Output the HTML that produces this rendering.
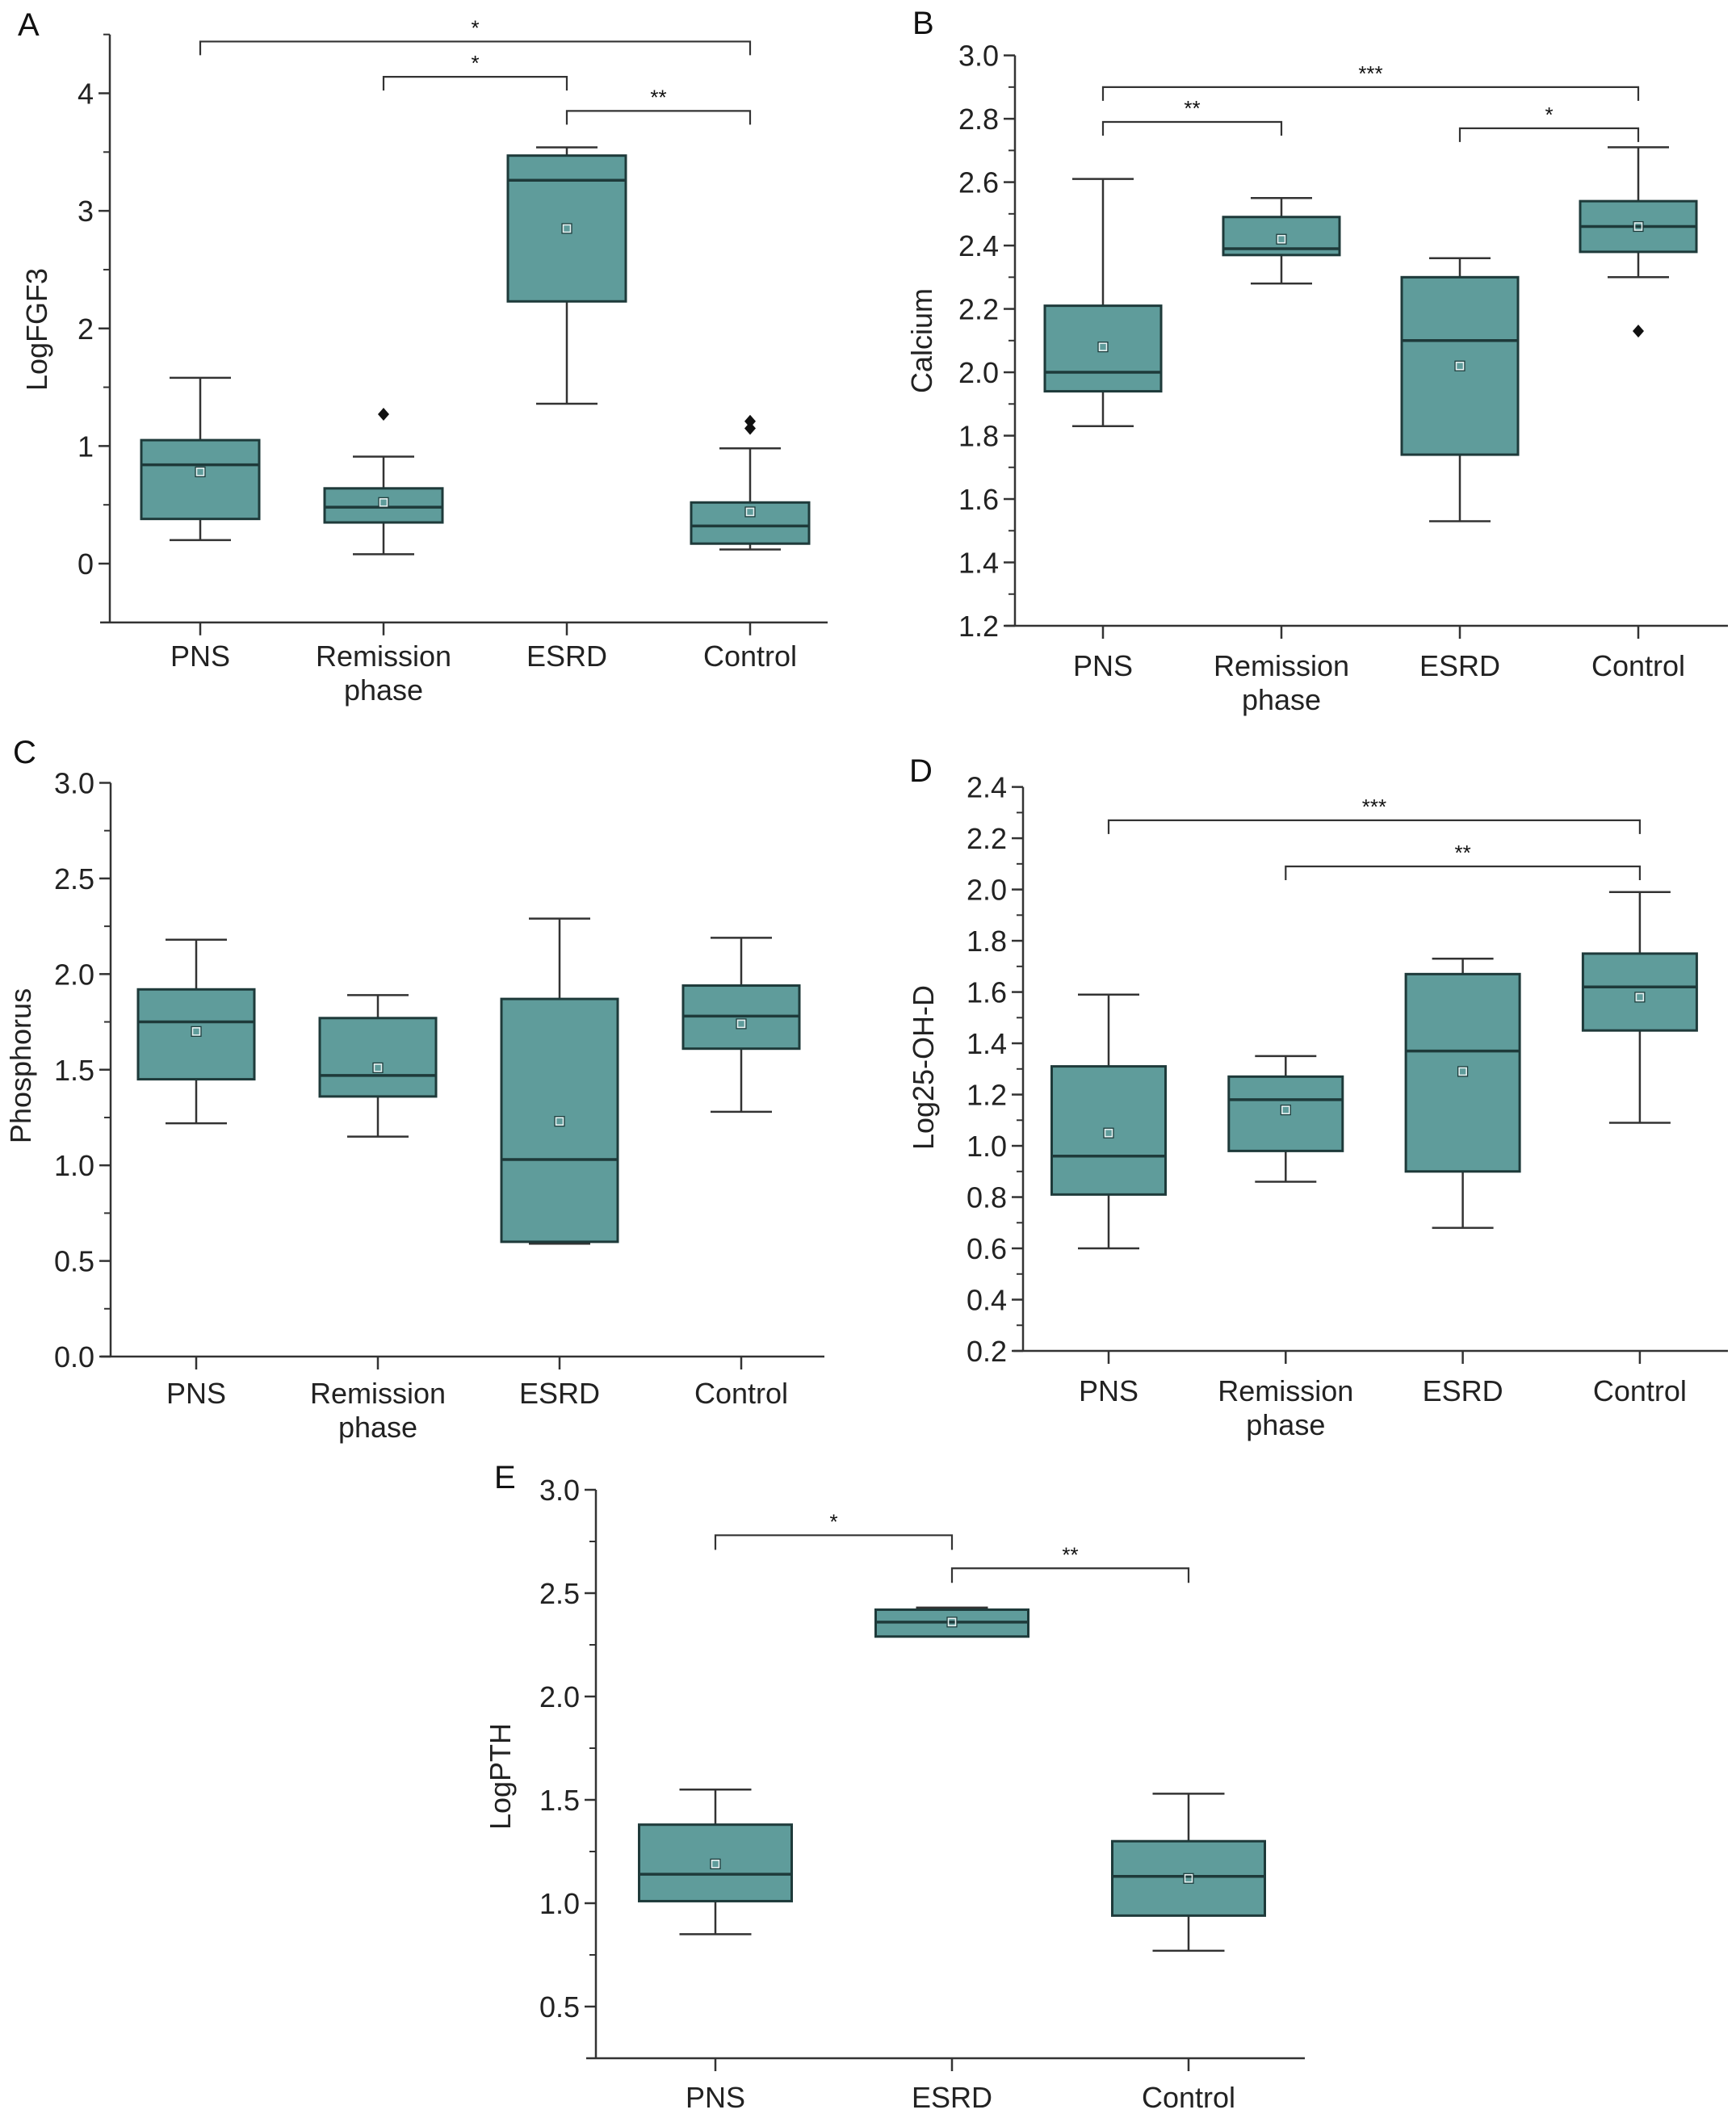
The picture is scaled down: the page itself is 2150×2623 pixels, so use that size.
<!DOCTYPE html>
<html><head><meta charset="utf-8"><style>
html,body{margin:0;padding:0;background:#fff;}
svg{display:block;font-family:"Liberation Sans",Arial,sans-serif;}
</style></head><body>
<svg id="chart" width="2150" height="2623" viewBox="0 0 2150 2623" xmlns="http://www.w3.org/2000/svg"></svg>
<script>
// ---- data ----
const catsA = ["PNS","Remission|phase","ESRD","Control"];
const minA = [0.20,0.08,1.36,0.12];
const q1A = [0.38,0.35,2.23,0.17];
const medA = [0.84,0.48,3.26,0.32];
const q3A = [1.05,0.64,3.47,0.52];
const maxA = [1.58,0.91,3.54,0.98];
const meanA = [0.78,0.52,2.85,0.44];
const outA = [[],[1.27],[],[1.15,1.21]];
const ticksA = [0,1,2,3,4];

const catsB = ["PNS","Remission|phase","ESRD","Control"];
const minB = [1.83,2.28,1.53,2.30];
const q1B = [1.94,2.37,1.74,2.38];
const medB = [2.00,2.39,2.10,2.46];
const q3B = [2.21,2.49,2.30,2.54];
const maxB = [2.61,2.55,2.36,2.71];
const meanB = [2.08,2.42,2.02,2.46];
const outB = [[],[],[],[2.13]];
const ticksB = ["1.2","1.4","1.6","1.8","2.0","2.2","2.4","2.6","2.8","3.0"];

const catsC = ["PNS","Remission|phase","ESRD","Control"];
const minC = [1.22,1.15,0.59,1.28];
const q1C = [1.45,1.36,0.60,1.61];
const medC = [1.75,1.47,1.03,1.78];
const q3C = [1.92,1.77,1.87,1.94];
const maxC = [2.18,1.89,2.29,2.19];
const meanC = [1.70,1.51,1.23,1.74];
const outC = [[],[],[],[]];
const ticksC = ["0.0","0.5","1.0","1.5","2.0","2.5","3.0"];

const catsD = ["PNS","Remission|phase","ESRD","Control"];
const minD = [0.60,0.86,0.68,1.09];
const q1D = [0.81,0.98,0.90,1.45];
const medD = [0.96,1.18,1.37,1.62];
const q3D = [1.31,1.27,1.67,1.75];
const maxD = [1.59,1.35,1.73,1.99];
const meanD = [1.05,1.14,1.29,1.58];
const outD = [[],[],[],[]];
const ticksD = ["0.2","0.4","0.6","0.8","1.0","1.2","1.4","1.6","1.8","2.0","2.2","2.4"];

const catsE = ["PNS","ESRD","Control"];
const minE = [0.85,2.29,0.77];
const q1E = [1.01,2.29,0.94];
const medE = [1.14,2.36,1.13];
const q3E = [1.38,2.42,1.30];
const maxE = [1.55,2.43,1.53];
const meanE = [1.19,2.36,1.12];
const outE = [[],[],[]];
const ticksE = ["0.5","1.0","1.5","2.0","2.5","3.0"];

// significance brackets: [fromIndex, toIndex, label, y-value]
const sigA = [[0,3,"*",4.44],[1,2,"*",4.14],[2,3,"**",3.85]];
const sigB = [[0,3,"***",2.90],[0,1,"**",2.79],[2,3,"*",2.77]];
const sigD = [[0,3,"***",2.27],[1,3,"**",2.09]];
const sigE = [[0,1,"*",2.78],[1,2,"**",2.62]];

// ---- layout ----
const NS="http://www.w3.org/2000/svg";
const svg=document.getElementById('chart');
function mk(tag,attrs,parent){const e=document.createElementNS(NS,tag);for(const k in attrs)e.setAttribute(k,attrs[k]);(parent||svg).appendChild(e);return e;}
const FILL="#5f9c9b", DARK="#1e3a3a", AX="#333";

function panel(p){
  const g=mk('g',{});
  
  
  const y=v=>p.y0+(v-p.v0)*(p.y1-p.y0)/(p.v1-p.v0);
  const xc=i=>p.x0+i*p.dx;
  const ya=mk('line',{x1:p.ax,y1:y(p.vTop),x2:p.ax,y2:y(p.vBot),stroke:AX,'stroke-width':2.5},g);
  
  const xa=mk('line',{x1:p.ax-12,y1:y(p.vBot),x2:p.xr,y2:y(p.vBot),stroke:AX,'stroke-width':2.5},g);
  
  for(let v=p.vBot;v<=p.vTop+1e-9;v+=p.minor){
    mk('line',{x1:p.ax-8,y1:y(v),x2:p.ax,y2:y(v),stroke:AX,'stroke-width':2},g);
  }
  p.ticks.forEach(t=>{
    const v=parseFloat(t);
    mk('line',{x1:p.ax-14,y1:y(v),x2:p.ax,y2:y(v),stroke:AX,'stroke-width':2.5},g);
    const tx=mk('text',{x:p.ax-20,y:y(v)+13,'text-anchor':'end','font-size':36,fill:'#222'},g);
    tx.textContent=t;
    
  });
  const tt=mk('text',{x:p.titleX,y:p.titleY,'text-anchor':'middle','font-size':36,fill:'#222',transform:`rotate(-90 ${p.titleX} ${p.titleY})`},g);
  tt.textContent=p.title;
  
  const lt=mk('text',{x:p.lx,y:p.ly,'font-size':40,fill:'#111'},g);
  lt.textContent=p.letter;
  
  p.cats.forEach((c,i)=>{
    const x=xc(i);
    mk('line',{x1:x,y1:y(p.vBot),x2:x,y2:y(p.vBot)+16,stroke:AX,'stroke-width':2.5},g);
    c.split('|').forEach((line,j)=>{
      const t=mk('text',{x:x,y:p.labY+j*42,'text-anchor':'middle','font-size':36,fill:'#222'},g);
      t.textContent=line;
      
    });
    const bg=mk('g',{},g);
    
    
    const hw=p.bw/2, cw=p.cw/2;
    mk('line',{x1:x,y1:y(p.max[i]),x2:x,y2:y(p.q3[i]),stroke:AX,'stroke-width':2.5},bg);
    mk('line',{x1:x,y1:y(p.q1[i]),x2:x,y2:y(p.min[i]),stroke:AX,'stroke-width':2.5},bg);
    mk('line',{x1:x-cw,y1:y(p.max[i]),x2:x+cw,y2:y(p.max[i]),stroke:AX,'stroke-width':2.5},bg);
    mk('line',{x1:x-cw,y1:y(p.min[i]),x2:x+cw,y2:y(p.min[i]),stroke:AX,'stroke-width':2.5},bg);
    mk('rect',{x:x-hw,y:y(p.q3[i]),width:p.bw,height:Math.max(1,y(p.q1[i])-y(p.q3[i])),fill:FILL,stroke:DARK,'stroke-width':3},bg);
    mk('line',{x1:x-hw,y1:y(p.med[i]),x2:x+hw,y2:y(p.med[i]),stroke:DARK,'stroke-width':3.5},bg);
    mk('rect',{x:x-4.5,y:y(p.mean[i])-4.5,width:9,height:9,fill:'none',stroke:'#e8f2f2','stroke-width':1.6},bg);
    mk('rect',{x:x-6,y:y(p.mean[i])-6,width:12,height:12,fill:'none',stroke:DARK,'stroke-width':1.2},bg);
    p.out[i].forEach(o=>{
      const d=mk('path',{d:`M${x} ${y(o)-8} L${x+7} ${y(o)} L${x} ${y(o)+8} L${x-7} ${y(o)} Z`,fill:'#111'},bg);
      
    });
  });
  (p.sig||[]).forEach(s=>{
    const sg=mk('g',{},g);
    
    
    const a=xc(s[0]),b=xc(s[1]),yy=y(s[3]);
    mk('path',{d:`M${a} ${yy+p.drop} L${a} ${yy} L${b} ${yy} L${b} ${yy+p.drop}`,fill:'none',stroke:AX,'stroke-width':2.2},sg);
    const st=mk('text',{x:(a+b)/2,y:yy-8,'text-anchor':'middle','font-size':26,fill:'#111'},sg);
    st.textContent=s[2];
  });
}

panel({letter:"A",lx:22,ly:44,title:"LogFGF3",titleX:58,titleY:408,
  cats:catsA,min:minA,q1:q1A,med:medA,q3:q3A,max:maxA,mean:meanA,out:outA,sig:sigA,
  ticks:ticksA.map(String),v0:0,v1:4,y0:698,y1:115.5,vTop:4.5,vBot:-0.5,minor:0.5,
  ax:136,xr:1025,x0:248,dx:227,bw:146,cw:76,labY:825,drop:17});
panel({letter:"B",lx:1130,ly:42,title:"Calcium",titleX:1154,titleY:422,
  cats:catsB,min:minB,q1:q1B,med:medB,q3:q3B,max:maxB,mean:meanB,out:outB,sig:sigB,
  ticks:ticksB,v0:1.2,v1:3.0,y0:775,y1:68.6,vTop:3.0,vBot:1.2,minor:0.1,
  ax:1257,xr:2140,x0:1366,dx:221,bw:144,cw:76,labY:837,drop:17});
panel({letter:"C",lx:16,ly:945,title:"Phosphorus",titleX:38,titleY:1320,
  cats:catsC,min:minC,q1:q1C,med:medC,q3:q3C,max:maxC,mean:meanC,out:outC,sig:[],
  ticks:ticksC,v0:0,v1:3,y0:1680,y1:969.5,vTop:3.0,vBot:0,minor:0.25,
  ax:137,xr:1021,x0:243,dx:225,bw:144,cw:76,labY:1738,drop:17});
panel({letter:"D",lx:1126,ly:968,title:"Log25-OH-D",titleX:1156,titleY:1322,
  cats:catsD,min:minD,q1:q1D,med:medD,q3:q3D,max:maxD,mean:meanD,out:outD,sig:sigD,
  ticks:ticksD,v0:0.2,v1:2.4,y0:1673,y1:974.6,vTop:2.4,vBot:0.2,minor:0.1,
  ax:1267,xr:2140,x0:1373,dx:219.3,bw:141,cw:76,labY:1735,drop:17});
panel({letter:"E",lx:612,ly:1843,title:"LogPTH",titleX:632,titleY:2200,
  cats:catsE,min:minE,q1:q1E,med:medE,q3:q3E,max:maxE,mean:meanE,out:outE,sig:sigE,
  ticks:ticksE,v0:0.5,v1:3.0,y0:2485,y1:1845,vTop:3.0,vBot:0.25,minor:0.25,
  ax:738,xr:1616,x0:886,dx:293,bw:189,cw:89,labY:2610,drop:18});
</script>
</body></html>
